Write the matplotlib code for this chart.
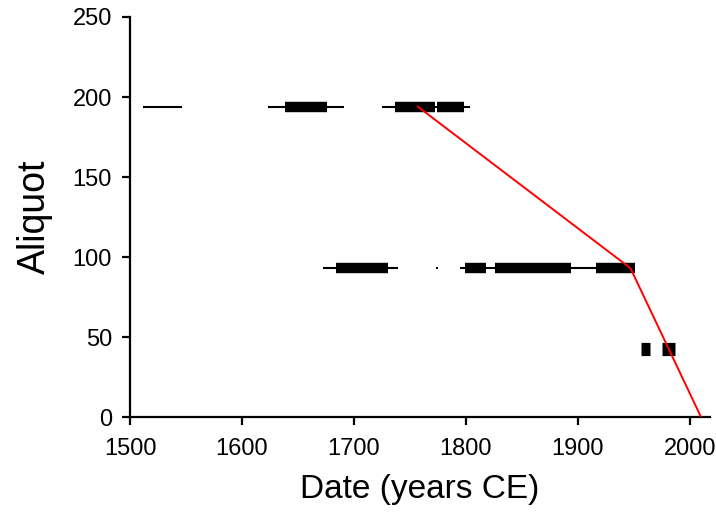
import matplotlib
matplotlib.use("Agg")
import matplotlib.pyplot as plt

plt.rcParams["font.family"] = ["Liberation Sans", "DejaVu Sans"]

# aliquot rows (y value) and their date ranges
aliquots = [194, 93, 42.5]

# thin lines: (aliquot index, start, end)
thin_ranges = [
    (0, 1512, 1546), (0, 1623, 1691), (0, 1725, 1804),
    (1, 1672, 1739), (1, 1773, 1775), (1, 1795, 1951),
]
# thick bars: (aliquot index, start, end)
thick_ranges = [
    (0, 1638, 1676), (0, 1737, 1772), (0, 1774, 1798),
    (1, 1684, 1730), (1, 1799, 1818), (1, 1826, 1894), (1, 1916, 1951),
]
# wide blocks on the bottom aliquot
block_ranges = [(2, 1956, 1964), (2, 1975, 1987)]

# red age model line
model_dates = [1757, 1947, 2010]
model_aliquot = [194, 93, 0]

fig = plt.figure(figsize=(7.16, 5.24), dpi=100)
ax = fig.add_axes([0.1816, 0.204, 0.81, 0.7636])

for i, a, b in thin_ranges:
    ax.plot([a, b], [aliquots[i]] * 2, color="black", lw=1.5, solid_capstyle="butt")
for i, a, b in thick_ranges:
    ax.plot([a, b], [aliquots[i]] * 2, color="black", lw=7.5, solid_capstyle="butt")
for i, a, b in block_ranges:
    ax.plot([a, b], [aliquots[i]] * 2, color="black", lw=9.5, solid_capstyle="butt")

ax.plot(model_dates, model_aliquot, color="red", lw=1.4, zorder=5)

ax.set_xlim(1500, 2018)
ax.set_ylim(0, 250)
ax.set_xticks([1500, 1600, 1700, 1800, 1900, 2000])
ax.set_yticks([0, 50, 100, 150, 200, 250])
ax.spines["top"].set_visible(False)
ax.spines["right"].set_visible(False)
for s in ("left", "bottom"):
    ax.spines[s].set_linewidth(1.6)
ax.tick_params(width=1.6, length=6, labelsize=17)
ax.tick_params(axis="x", pad=9)
ax.tick_params(axis="y", pad=7)

ax.set_xlabel("Date (years CE)", fontsize=24, labelpad=10)
ax.set_ylabel("Aliquot", fontsize=27, labelpad=14)

fig.savefig("out.png", dpi=100)
